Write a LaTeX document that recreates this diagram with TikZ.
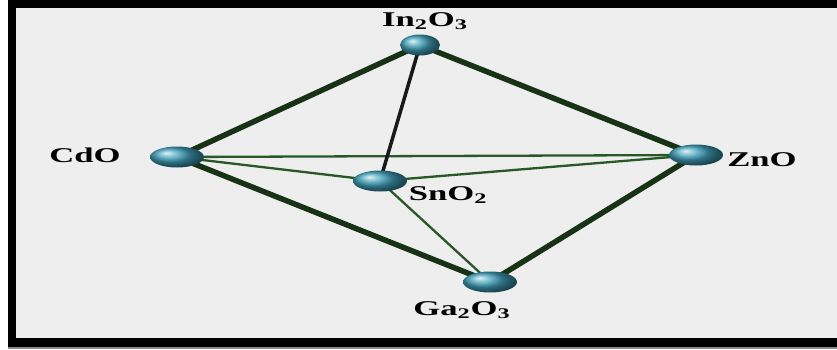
\documentclass[tikz,border=0pt]{standalone}
\usepackage{fontspec}
\setmainfont{Liberation Serif}
\usetikzlibrary{shapes.geometric}
\pgfdeclarelayer{back}
\pgfdeclarelayer{bg}
\pgfsetlayers{back,bg,main}
\definecolor{panel}{RGB}{238,238,238}
\definecolor{thickgreen}{RGB}{24,50,22}
\definecolor{thingreen}{RGB}{40,88,38}
\definecolor{teal}{RGB}{64,160,186}
\begin{document}
\begin{tikzpicture}[x=1pt,y=-1pt,
  ball/.style={ellipse, ball color=teal, minimum width=54pt, minimum height=21pt, inner sep=0pt},
  lab/.style={font=\fontsize{21}{25}\selectfont\bfseries, inner sep=0pt, text=black},
  thick edge/.style={draw=thickgreen, line width=5.5pt},
  thin edge/.style={draw=thingreen, line width=2.3pt},
  black edge/.style={draw=black!90, line width=3.5pt}]
\useasboundingbox (0,0) rectangle (837,349);
\begin{pgfonlayer}{back}
\fill[white] (0,0) rectangle (837,349);
\fill[black!45] (8,345) rectangle (837,349);
\fill[black] (8,0) rectangle (837,347);
\fill[panel] (16,8) rectangle (837,338);
\end{pgfonlayer}
% nodes
\node[ball, minimum width=40pt, minimum height=21pt] (in) at (420,45) {};
\node[ball] (cdo) at (177,157) {};
\node[ball] (sno) at (380,181) {};
\node[ball] (zno) at (696,155) {};
\node[ball] (gao) at (490,282) {};
% labels
\node[lab] (inl) at (425,21) {\scalebox{1.65}[1]{In\textsubscript{2}O\textsubscript{3}}};
\node[lab] (cdol) at (85,155) {\scalebox{1.65}[1]{CdO}};
\node[lab] (snol) at (448,195) {\scalebox{1.65}[1]{SnO\textsubscript{2}}};
\node[lab] (znol) at (762,160) {\scalebox{1.65}[1]{ZnO}};
\node[lab] (gaol) at (462,310) {\scalebox{1.65}[1]{Ga\textsubscript{2}O\textsubscript{3}}};
% edges
\begin{pgfonlayer}{bg}
\draw[thin edge] (cdo.center) -- (zno.center);
\draw[thin edge] (cdo.center) -- (sno.center);
\draw[thin edge] (sno.center) -- (zno.center);
\draw[thin edge] (sno.center) -- (gao.center);
\draw[thick edge] (in.center) -- (cdo.center);
\draw[thick edge] (in.center) -- (zno.center);
\draw[thick edge] (cdo.center) -- (gao.center);
\draw[thick edge] (zno.center) -- (gao.center);
\draw[black edge] (in.center) -- (sno.center);
\end{pgfonlayer}
\end{tikzpicture}
\end{document}
